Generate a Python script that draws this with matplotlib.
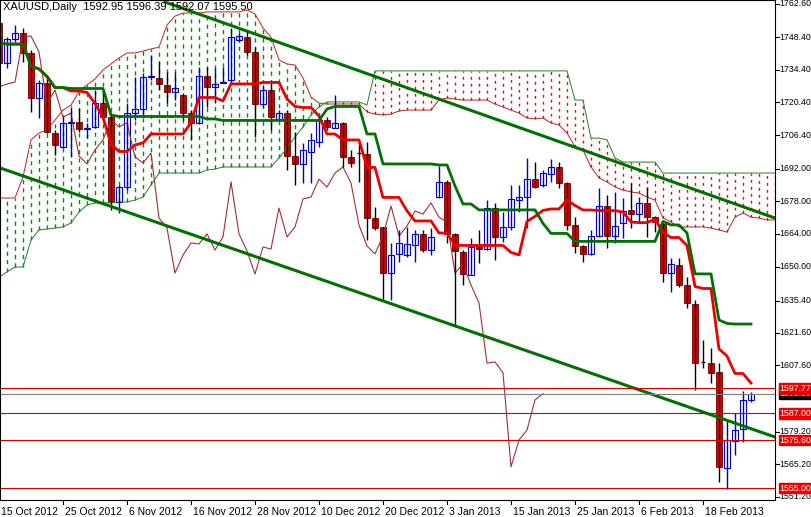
import numpy as np
import pandas as pd
import matplotlib
matplotlib.use("Agg")
import matplotlib.pyplot as plt

plt.rcParams['font.family'] = ['Liberation Sans', 'DejaVu Sans']

# XAUUSD daily candles (open, high, low, close)
opens = [1754.4, 1737.3, 1747.6, 1750.2, 1741.6, 1722.3, 1728.7, 1707.3, 1701.3, 1711.6,
         1712.0, 1709.0, 1709.9, 1720.1, 1714.1, 1677.7, 1684.1, 1715.8, 1717.6, 1731.3,
         1730.9, 1727.9, 1724.9, 1723.6, 1715.8, 1711.6, 1731.7, 1727.0, 1728.7, 1730.0,
         1747.2, 1748.4, 1742.0, 1719.7, 1725.7, 1713.3, 1715.8, 1697.4, 1694.0, 1699.1,
         1703.4, 1712.8, 1709.4, 1711.6, 1697.0, 1698.7, 1698.3, 1670.8, 1667.0, 1647.2,
         1655.4, 1654.9, 1659.2, 1664.0, 1657.1, 1679.8, 1686.3, 1664.0, 1656.2, 1646.4,
         1658.8, 1657.5, 1675.1, 1662.7, 1667.0, 1678.5, 1679.8, 1687.5, 1685.0, 1689.7,
         1692.7, 1685.8, 1667.8, 1658.8, 1655.4, 1663.1, 1676.0, 1663.1, 1668.7, 1674.2,
         1672.5, 1677.3, 1671.2, 1668.2, 1647.2, 1650.7, 1642.1, 1633.9, 1609.1, 1608.6,
         1604.8, 1563.6, 1575.2, 1580.3, 1592.95]
highs = [1755.7, 1748.4, 1753.6, 1752.3, 1742.9, 1730.0, 1730.9, 1708.6, 1714.1, 1718.4,
         1718.0, 1711.6, 1725.7, 1724.9, 1715.0, 1685.0, 1720.1, 1731.3, 1733.0, 1740.7,
         1737.7, 1733.4, 1733.4, 1724.4, 1717.1, 1735.6, 1735.6, 1735.1, 1735.6, 1752.3,
         1750.2, 1751.4, 1744.1, 1727.9, 1728.7, 1717.1, 1717.1, 1707.7, 1703.0, 1707.3,
         1715.8, 1714.1, 1723.6, 1712.0, 1700.0, 1703.0, 1703.4, 1675.5, 1667.0, 1660.1,
         1665.7, 1667.0, 1665.7, 1665.7, 1666.5, 1693.1, 1687.1, 1664.4, 1657.1, 1662.2,
         1665.7, 1678.5, 1677.3, 1673.4, 1685.0, 1685.0, 1696.6, 1694.8, 1691.4, 1696.1,
         1694.8, 1686.3, 1671.2, 1659.2, 1665.7, 1683.7, 1680.7, 1682.0, 1679.4, 1685.8,
         1679.8, 1684.1, 1671.7, 1668.7, 1653.7, 1653.7, 1645.5, 1635.7, 1618.5, 1615.1,
         1608.6, 1584.6, 1587.2, 1596.6, 1596.39]
lows = [1736.0, 1735.1, 1746.3, 1737.7, 1716.3, 1713.7, 1707.3, 1697.8, 1700.9, 1697.0,
        1707.7, 1705.1, 1709.4, 1712.8, 1674.2, 1673.0, 1682.8, 1712.8, 1714.1, 1730.0,
        1725.7, 1720.1, 1721.4, 1712.8, 1704.3, 1711.2, 1718.4, 1720.1, 1728.7, 1728.7,
        1746.3, 1740.7, 1705.6, 1718.4, 1708.6, 1712.8, 1691.4, 1685.0, 1685.8, 1685.8,
        1701.3, 1708.6, 1709.4, 1692.7, 1692.7, 1686.3, 1661.4, 1665.7, 1635.7, 1635.7,
        1651.9, 1654.1, 1651.9, 1656.2, 1654.9, 1679.4, 1660.1, 1625.0, 1642.1, 1646.4,
        1651.5, 1657.1, 1652.8, 1660.6, 1665.7, 1673.4, 1666.5, 1683.7, 1684.1, 1686.3,
        1683.7, 1665.7, 1655.8, 1651.9, 1654.9, 1662.7, 1657.9, 1660.1, 1662.2, 1666.5,
        1668.7, 1662.7, 1664.8, 1643.4, 1639.1, 1641.2, 1632.2, 1597.1, 1606.5, 1600.1,
        1557.6, 1554.6, 1569.2, 1574.8, 1592.07]
closes = [1737.3, 1747.6, 1750.2, 1741.6, 1722.3, 1728.7, 1707.7, 1702.1, 1711.6, 1712.0,
          1709.0, 1709.4, 1720.1, 1714.1, 1677.7, 1684.1, 1715.8, 1717.6, 1731.3, 1731.7,
          1728.3, 1724.9, 1726.6, 1715.8, 1711.6, 1731.7, 1727.0, 1728.3, 1729.1, 1748.4,
          1748.9, 1742.0, 1719.7, 1725.7, 1714.1, 1715.8, 1697.4, 1694.0, 1700.0, 1704.3,
          1712.8, 1709.9, 1711.6, 1697.0, 1694.4, 1698.7, 1670.8, 1666.5, 1647.2, 1654.9,
          1660.1, 1659.7, 1664.0, 1657.1, 1662.7, 1686.3, 1664.0, 1656.7, 1646.8, 1658.4,
          1657.5, 1675.1, 1662.7, 1667.0, 1679.0, 1679.8, 1687.5, 1684.1, 1690.1, 1692.7,
          1685.8, 1667.8, 1658.8, 1655.4, 1663.1, 1676.0, 1663.1, 1667.4, 1673.8, 1672.5,
          1677.3, 1671.2, 1669.1, 1647.2, 1651.1, 1642.1, 1634.4, 1608.6, 1609.1, 1604.4,
          1564.1, 1575.6, 1579.9, 1592.8, 1595.50]

# Ichimoku cloud spans as shown on the chart (they run 26 bars past the last candle)
span_a = [1679.4, 1679.4, 1679.4, 1688.4, 1704.3, 1707.3, 1708.6, 1712.8, 1717.1, 1719.3,
          1724.9, 1727.9, 1730.4, 1734.3, 1736.9, 1739.4, 1741.6, 1741.6, 1742.4, 1743.3,
          1744.1, 1753.6, 1757.4, 1758.7, 1758.7, 1758.7, 1759.2, 1759.2, 1759.2, 1759.2,
          1759.2, 1760.0, 1758.3, 1752.3, 1748.4, 1738.6, 1736.9, 1736.4, 1730.9, 1722.7,
          1720.1, 1719.7, 1719.7, 1719.7, 1719.7, 1719.7, 1716.3, 1715.4, 1715.0, 1715.4,
          1716.7, 1717.1, 1717.1, 1717.1, 1717.1, 1721.4, 1722.3, 1721.8, 1721.4, 1721.4,
          1721.4, 1721.4, 1719.7, 1718.4, 1717.1, 1715.8, 1713.7, 1713.3, 1713.7, 1711.6,
          1710.7, 1707.3, 1701.3, 1700.0, 1692.7, 1688.0, 1686.3, 1684.1, 1682.8, 1682.0,
          1681.5, 1679.8, 1678.5, 1670.8, 1669.1, 1667.0, 1667.0, 1667.0, 1667.0, 1666.5,
          1665.7, 1664.8, 1671.2, 1673.0, 1671.2, 1670.8, 1670.0, 1670.0]
span_b = [1645.5, 1647.7, 1649.8, 1649.8, 1661.4, 1665.7, 1666.1, 1666.5, 1667.0, 1668.7,
          1673.4, 1676.4, 1677.3, 1677.3, 1677.3, 1677.7, 1677.7, 1678.5, 1679.8, 1685.0,
          1690.1, 1690.1, 1690.1, 1690.1, 1690.1, 1690.1, 1691.4, 1691.8, 1692.7, 1692.7,
          1692.7, 1692.7, 1692.7, 1692.7, 1692.7, 1696.6, 1700.8, 1705.6, 1709.9, 1715.0,
          1718.4, 1720.6, 1720.6, 1720.6, 1720.6, 1720.6, 1719.3, 1733.9] + [1733.9] * 24 + \
         [1721.4, 1721.4, 1705.1, 1705.1, 1704.3, 1696.6] + [1694.8] * 5 + [1690.1] * 15

# hand drawn channel lines: (bar, price) end points
upper_line = [(20.75, 1763.4), (97.0, 1670.8)]
lower_line = [(0.125, 1692.3), (97.0, 1576.9)]

levels = [1587.00, 1575.60, 1555.00, 1597.77]
last_price = 1595.50

price_ticks = [1762.60, 1748.40, 1734.40, 1720.40, 1706.40, 1692.00, 1678.00, 1664.00,
               1650.00, 1635.40, 1621.60, 1607.60, 1579.20, 1565.20, 1551.20]
date_labels = ["15 Oct 2012", "25 Oct 2012", "6 Nov 2012", "16 Nov 2012", "28 Nov 2012",
               "10 Dec 2012", "20 Dec 2012", "3 Jan 2013", "15 Jan 2013", "25 Jan 2013",
               "6 Feb 2013", "18 Feb 2013"]
date_bars = [0, 8, 16, 24, 32, 40, 48, 56, 64, 72, 80, 88]

df = pd.DataFrame({"o": opens, "h": highs, "l": lows, "c": closes})
tenkan = (df.h.rolling(9, min_periods=1).max() + df.l.rolling(9, min_periods=1).min()) / 2
kijun = (df.h.rolling(26, min_periods=1).max() + df.l.rolling(26, min_periods=1).min()) / 2
chikou = df.c.shift(-26)

fig = plt.figure(figsize=(8.12, 5.17), dpi=100)
ax = fig.add_axes([0, 17 / 517, 775 / 812, 500 / 517])
ax.set_xlim(0.125, 97)
ax.set_ylim(1549.9, 1764.3)

# cloud hatching
sa = np.array(span_a)
sb = np.array(span_b)
kc = np.arange(len(sa))
up = sa >= sb
ax.vlines(kc[up], sb[up], sa[up], colors="#009000", lw=1.0, linestyles=(0, (3, 3)))
ax.vlines(kc[~up], sa[~up], sb[~up], colors="#f00000", lw=1.0, linestyles=(0, (2, 3)))
ax.plot(kc, sa, color="#c02020", lw=0.7)
ax.plot(kc, sb, color="#208020", lw=0.7)

k = np.arange(len(df))
ax.plot(k, chikou, color="#a03030", lw=0.8)

# candles
for i, r in df.iterrows():
    if r.c < r.o:
        ax.vlines(i, r.l, r.h, color="black", lw=1)
        ax.bar(i, r.o - r.c, bottom=r.c, width=0.65, color="#e00000", edgecolor="#600000", lw=0.6)
    elif abs(r.c - r.o) < 0.05:
        ax.vlines(i, r.l, r.h, color="black", lw=1)
        ax.hlines(r.c, i - 0.3, i + 0.3, color="black", lw=1)
    else:
        ax.vlines(i, r.l, r.h, color="#0000c0", lw=1)
        ax.bar(i, max(r.c - r.o, 0.4), bottom=r.o, width=0.65, color="white", edgecolor="#0000c0", lw=0.8)

ax.plot(k, tenkan, color="#ee0000", lw=2)
ax.plot(k, kijun, color="#007000", lw=2)

for pts in (upper_line, lower_line):
    ax.plot([p[0] for p in pts], [p[1] for p in pts], color="#007000", lw=2.2)

for lv in levels:
    ax.axhline(lv, color="#d00000", lw=0.8)
ax.axhline(last_price, color="#808080", lw=0.8)

ax.set_xticks([])
ax.set_yticks([])
for s in ax.spines.values():
    s.set_color("black")
    s.set_linewidth(0.8)

trans = ax.get_yaxis_transform()
for t in price_ticks:
    ax.plot([1.0, 1.005], [t, t], color="black", lw=0.8, transform=trans, clip_on=False)
    ax.text(1.006, t, f"{t:.2f}", transform=trans, va="center", ha="left", fontsize=6.3, clip_on=False)
ax.text(1.006, last_price, f"{last_price:.2f}", transform=trans, va="center", ha="left",
        fontsize=6.3, color="white", clip_on=False,
        bbox=dict(boxstyle="square,pad=0.1", fc="black", ec="black"))
for lv in levels:
    ax.text(1.006, lv, f"{lv:.2f}", transform=trans, va="center", ha="left", fontsize=6.3,
            color="white", clip_on=False,
            bbox=dict(boxstyle="square,pad=0.1", fc="#ee0000", ec="#ee0000"))

xtrans = ax.get_xaxis_transform()
for b, lab in zip(date_bars, date_labels):
    ax.plot([b, b], [0, -0.008], color="black", lw=0.8, transform=xtrans, clip_on=False)
    ax.text(b + 0.3, -0.014, lab, transform=xtrans, ha="left", va="top", fontsize=7.5, clip_on=False)

ax.text(0.004, 0.995, "XAUUSD,Daily  1592.95 1596.39 1592.07 1595.50", transform=ax.transAxes,
        ha="left", va="top", fontsize=8)

fig.savefig("out.png", dpi=100)
